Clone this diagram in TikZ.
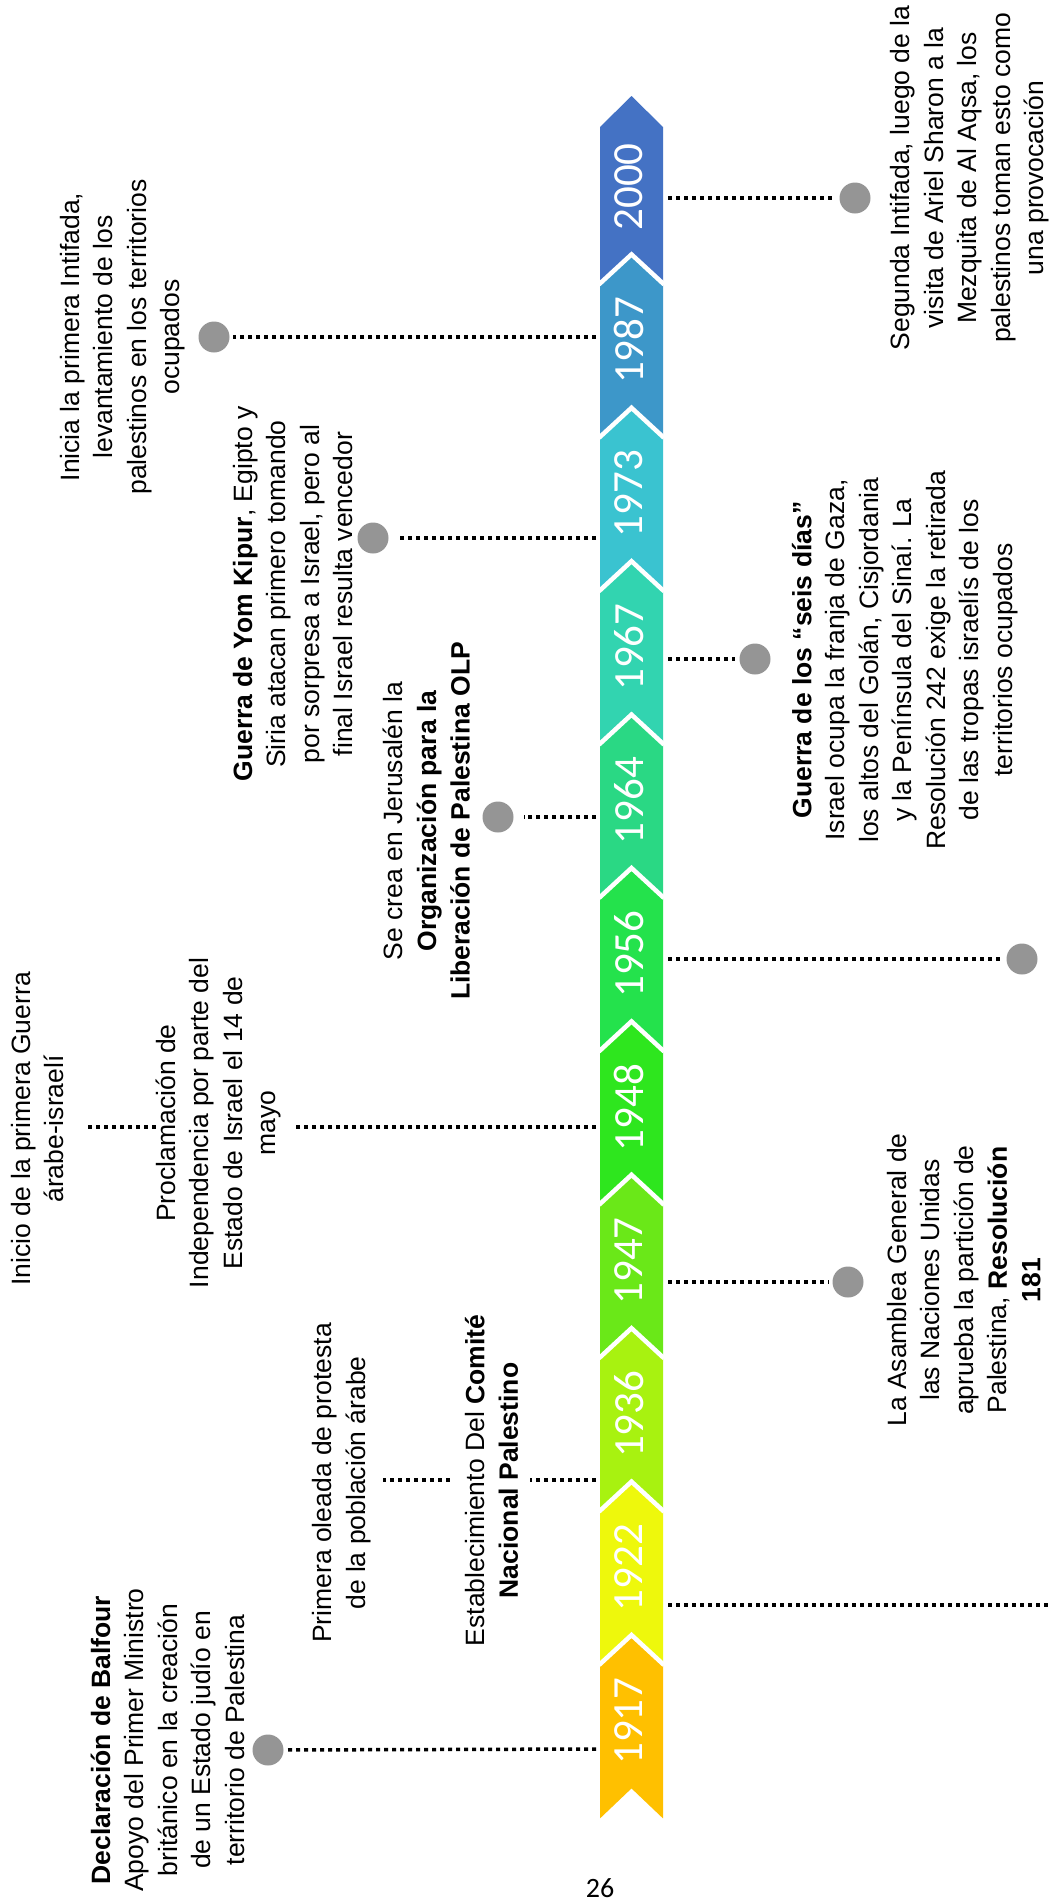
\documentclass[tikz,border=0pt]{standalone}
\usepackage{fontspec}
\setmainfont{Liberation Sans}
\newfontfamily\yearfont{Carlito}
\definecolor{c1917}{HTML}{FFC000}
\definecolor{c1922}{HTML}{EEF80C}
\definecolor{c1936}{HTML}{A8F210}
\definecolor{c1947}{HTML}{6AE818}
\definecolor{c1948}{HTML}{2EE61E}
\definecolor{c1956}{HTML}{24E24C}
\definecolor{c1964}{HTML}{2AD884}
\definecolor{c1967}{HTML}{32D4B0}
\definecolor{c1973}{HTML}{3AC3D0}
\definecolor{c1987}{HTML}{3D97C9}
\definecolor{c2000}{HTML}{4472C4}
\definecolor{dotgray}{HTML}{959595}
\tikzset{
  ev/.style={rotate=90, align=center, inner sep=0pt, font=\fontsize{26.5}{33.5}\selectfont},
  yr/.style={rotate=90, text=white, inner sep=0pt, font=\yearfont\fontsize{43}{43}\selectfont},
  conn/.style={line width=3.5pt, dash pattern=on 4pt off 4pt},
  evdot/.style={circle, fill=dotgray, draw=none, minimum size=31pt, inner sep=0pt},
}
\begin{document}
\begin{tikzpicture}[x=1pt, y=-1pt]
\fill[white] (0,0) rectangle (1050,1904);
\useasboundingbox (0,0) rectangle (1050,1904);

% chevron band
\foreach \k/\yr/\col in {0/1917/c1917,1/1922/c1922,2/1936/c1936,3/1947/c1947,4/1948/c1948,5/1956/c1956,6/1964/c1964,7/1967/c1967,8/1973/c1973,9/1987/c1987,10/2000/c2000}{
  \pgfmathsetmacro\segt{1635-153.4*\k}
  \pgfmathsetmacro\segtop{\k==10 ? 96 : \segt}
  \pgfmathsetmacro\segsh{\k==10 ? 127 : \segt+30}
  \fill[\col] (631.5,\segtop) -- (663,\segsh) -- (663,\segt+183.4) -- (631.5,\segt+153.4) -- (600,\segt+183.4) -- (600,\segsh) -- cycle;
  \node[yr] (y\yr) at (629,\segt+86) {\yr};
}
\foreach \k in {0,...,9}{
  \pgfmathsetmacro\segt{1635-153.4*\k}
  \draw[white, line width=4.5pt] (599,\segt+30) -- (631.5,\segt) -- (664,\segt+30);
}

% band edge coordinates
\coordinate (r2000) at (668,198);
\coordinate (l1987) at (596,337);
\coordinate (l1973) at (596,538);
\coordinate (r1967) at (668,659);
\coordinate (l1964) at (596,817);
\coordinate (r1956) at (668,959);
\coordinate (l1948) at (596,1127);
\coordinate (r1947) at (668,1282);
\coordinate (l1936) at (596,1480);
\coordinate (r1922) at (668,1605);
\coordinate (e1922) at (1050,1605);
\coordinate (l1917) at (596,1749);

% dots
\node[evdot] (d2000) at (855,198) {};
\node[evdot] (d1987) at (214,337) {};
\node[evdot] (d1973) at (373,538) {};
\node[evdot] (d1967) at (755,659) {};
\node[evdot] (d1964) at (498,817) {};
\node[evdot] (d1956) at (1022,959) {};
\node[evdot] (d1947) at (848,1282) {};
\node[evdot] (d1917) at (268,1750) {};

% texts
\node[ev] (t2000) at (970,178) {Segunda Intifada, luego de la\\visita de Ariel Sharon a la\\Mezquita de Al Aqsa, los\\palestinos toman esto como\\una provocación};
\node[ev] (t1987) at (122.5,337) {Inicia la primera Intifada,\\levantamiento de los\\palestinos en los territorios\\ocupados};
\node[ev] (t1973) at (293,594) {\textbf{Guerra de Yom Kipur}, Egipto y\\Siria atacan primero tomando\\por sorpresa a Israel, pero al\\final Israel resulta vencedor};
\node[ev] (t1967) at (905,660) {\textbf{Guerra de los “seis días”}\\Israel ocupa la franja de Gaza,\\los altos del Golán, Cisjordania\\y la Península del Sinaí. La\\Resolución 242 exige la retirada\\de las tropas israelís de los\\territorios ocupados};
\node[ev] (t1964) at (426.5,821) {Se crea en Jerusalén la\\\textbf{Organización para la}\\\textbf{Liberación de Palestina OLP}};
\node[ev] (procl) at (218.5,1123) {Proclamación de\\Independencia por parte del\\Estado de Israel el 14 de\\mayo};
\node[ev] (inicio) at (37.5,1129) {Inicio de la primera Guerra\\árabe-israelí};
\node[ev] (t1947) at (964,1280) {La Asamblea General de\\las Naciones Unidas\\aprueba la partición de\\Palestina, \textbf{Resolución}\\\textbf{181}};
\node[ev] (estab) at (491.5,1480.5) {Establecimiento Del \textbf{Comité}\\\textbf{Nacional Palestino}};
\node[ev] (primera) at (341.5,1483) {Primera oleada de protesta\\de la población árabe};
\node[ev] (t1917) at (167.5,1740) {\textbf{Declaración de Balfour}\\Apoyo del Primer Ministro\\británico en la creación\\de un Estado judío en\\territorio de Palestina};

% connectors
\draw[conn, shorten >=4pt] (r2000) -- (d2000);
\draw[conn, shorten >=3pt] (l1987) -- (d1987);
\draw[conn, shorten >=8pt] (l1973) -- (d1973);
\draw[conn, shorten >=4pt] (r1967) -- (d1967);
\draw[conn, shorten >=10pt] (l1964) -- (d1964);
\draw[conn, shorten >=4pt] (r1956) -- (d1956);
\draw[conn, shorten >=11pt] (l1948) -- (l1948 -| procl.south);
\draw[conn, shorten >=24pt] (procl.north |- l1948) -- (l1948 -| inicio.south);
\draw[conn, shorten >=4pt] (r1947) -- (d1947);
\draw[conn, shorten >=12pt] (l1936) -- (l1936 -| estab.south);
\draw[conn, shorten <=15pt, shorten >=12pt] (estab.north |- l1936) -- (l1936 -| primera.south);
\draw[conn] (r1922) -- (e1922);
\draw[conn, shorten >=3pt] (l1917) -- (d1917);

% page number
\node[font=\yearfont\fontsize{28}{28}\selectfont, inner sep=0pt] (pg) at (600,1888) {26};
\end{tikzpicture}
\end{document}
